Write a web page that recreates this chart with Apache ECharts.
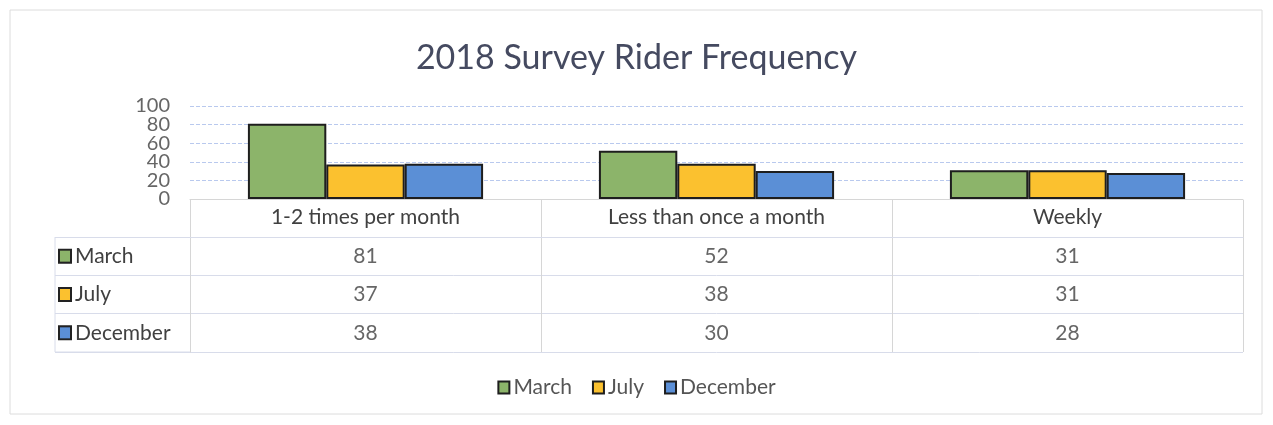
<!DOCTYPE html>
<html>
<head>
<meta charset="utf-8">
<script src="https://cdn.jsdelivr.net/npm/echarts@6/dist/echarts.min.js"></script>
<style>
  html, body { margin: 0; padding: 0; background: #fff; }
  #chart { width: 1273px; height: 425px; }
</style>
</head>
<body>
<div id="chart"></div>
<script>
const categories = ['1-2 times per month', 'Less than once a month', 'Weekly'];
const seriesNames = ['March', 'July', 'December'];
const march = [81, 52, 31];
const july = [37, 38, 31];
const december = [38, 30, 28];
const yTicks = [0, 20, 40, 60, 80, 100];

const colors = ['#8cb46a', '#fbc12f', '#5b8fd6'];
const values = [march, july, december];
const textColor = '#404040';
const font = 'Lato, "Open Sans", sans-serif';

// table cells: one point per (category, month)
const tableData = [];
values.forEach((arr, r) => {
    arr.forEach((v, c) => tableData.push([categories[c], seriesNames[r], v]));
});

const rich = { t: { fontSize: 21, color: textColor, fontFamily: font, padding: [0, 0, 0, 5] } };
seriesNames.forEach((n, i) => {
    rich['k' + i] = { width: 10, height: 11, backgroundColor: colors[i], borderColor: '#222', borderWidth: 2 };
});

// tick labels sit closer than their height, so split them over two axes
const evenTicks = yTicks.filter((t, i) => i % 2 === 0);
const oddTicks = yTicks.filter((t, i) => i % 2 === 1);
const valueAxis = (shown, split) => ({
    type: 'value',
    gridIndex: 0,
    position: 'left',
    min: yTicks[0],
    max: yTicks[yTicks.length - 1],
    interval: yTicks[1] - yTicks[0],
    axisLine: { show: false },
    axisTick: { show: false },
    axisLabel: {
        margin: 20, fontSize: 20, color: '#666', fontFamily: font,
        formatter: v => shown.indexOf(v) >= 0 ? String(v) : ''
    },
    splitLine: { show: split, lineStyle: { color: '#b9c9ee', type: 'dashed', width: 1 } }
});

const chart = echarts.init(document.getElementById('chart'));
chart.setOption({
    backgroundColor: '#fff',
    textStyle: { fontFamily: font },
    title: {
        text: '2018 Survey Rider Frequency',
        left: 'center',
        top: 36,
        textStyle: { fontSize: 34, fontWeight: 'normal', color: '#454a60', fontFamily: font }
    },
    legend: {
        bottom: 22,
        left: 'center',
        icon: 'rect',
        itemWidth: 11,
        itemHeight: 12,
        itemGap: 20,
        data: seriesNames,
        textStyle: { fontSize: 21, color: '#555', fontFamily: font, padding: [0, 0, 0, -1] }
    },
    grid: [
        { left: 190, right: 30, top: 106, height: 93 },
        { left: 190, right: 30, top: 237, height: 115 }
    ],
    xAxis: [
        {
            type: 'category',
            gridIndex: 0,
            data: categories,
            axisLine: { lineStyle: { color: '#d6d6d6', width: 1 } },
            axisTick: { show: false },
            axisLabel: { show: false }
        },
        {
            type: 'category',
            gridIndex: 1,
            position: 'top',
            data: categories,
            axisLine: { show: true, lineStyle: { color: '#d8dcea', width: 1 } },
            axisTick: { show: true, length: 37, lineStyle: { color: '#d6d6d6' } },
            axisLabel: { fontSize: 21, color: textColor, margin: 9, fontFamily: font },
            splitLine: { show: true, lineStyle: { color: '#d6d6d6' } }
        }
    ],
    yAxis: [
        valueAxis(evenTicks, true),
        valueAxis(oddTicks, false),
        {
            type: 'category',
            gridIndex: 1,
            inverse: true,
            data: seriesNames,
            axisLine: { show: true, lineStyle: { color: '#d6d6d6' } },
            axisTick: { show: true, length: 135, lineStyle: { color: '#d8dcea' } },
            axisLabel: {
                align: 'left',
                margin: 130,
                formatter: (v, i) => '{k' + i + '|}{t|' + v + '}',
                rich: rich
            },
            splitLine: { show: true, lineStyle: { color: '#d8dcea' } }
        }
    ],
    series: seriesNames.map((name, i) => ({
        name: name,
        type: 'bar',
        xAxisIndex: 0,
        yAxisIndex: 0,
        data: values[i],
        barGap: '0%',
        barCategoryGap: '33%',
        itemStyle: { color: colors[i], borderColor: '#1e1e1e', borderWidth: 2 }
    })).concat([{
        type: 'scatter',
        xAxisIndex: 1,
        yAxisIndex: 2,
        symbolSize: 0,
        silent: true,
        data: tableData,
        label: {
            show: true,
            position: 'inside',
            formatter: p => p.value[2],
            fontSize: 21,
            color: textColor,
            fontFamily: font
        }
    }]),
    graphic: [{
        type: 'rect',
        shape: { x: 10, y: 10, width: 1252, height: 404 },
        style: { fill: 'none', stroke: '#dcdcdc', lineWidth: 1 },
        silent: true
    }, {
        type: 'line',
        shape: { x1: 55, y1: 352, x2: 190, y2: 352 },
        style: { stroke: '#d8dcea', lineWidth: 1 }
    }, {
        type: 'line',
        shape: { x1: 55, y1: 237, x2: 55, y2: 352 },
        style: { stroke: '#d8dcea', lineWidth: 1 }
    }]
});
</script>
</body>
</html>
